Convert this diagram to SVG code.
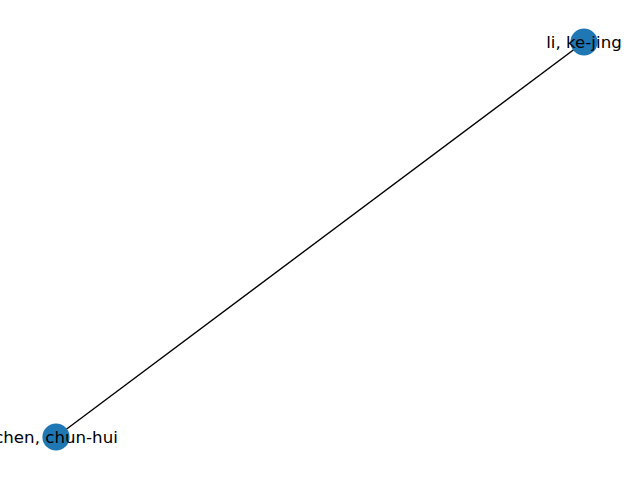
<svg xmlns="http://www.w3.org/2000/svg" width="640" height="480" viewBox="0 0 640 480">
<style>
.node{fill:#1f77b4;}
.lbl{font-family:"DejaVu Sans",sans-serif;font-size:16.67px;fill:#000;text-anchor:middle;dominant-baseline:central;}
.edge{stroke:#000;stroke-width:1.39;fill:none;}
</style>
<rect width="640" height="480" fill="#fff"/>
<g id="edges">
<line class="edge" x1="56" y1="437" x2="584" y2="42"/>
</g>
<g id="node-li">
<circle class="node" cx="584" cy="42" r="13.6"/>
<text class="lbl" x="584" y="42">li, ke-jing</text>
</g>
<g id="node-chen">
<circle class="node" cx="56" cy="437" r="13.6"/>
<text class="lbl" x="56" y="437">chen, chun-hui</text>
</g>
</svg>
